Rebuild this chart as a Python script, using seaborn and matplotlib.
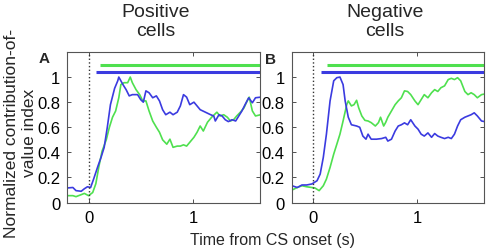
import numpy as np
import pandas as pd
import matplotlib
matplotlib.use("Agg")
import matplotlib.pyplot as plt
import seaborn as sns

# --- values ---
t_pos_blue = [-0.21, -0.15, -0.12, -0.07, -0.04, -0.01, 0.02, 0.05, 0.09, 0.12, 0.15, 0.18,
              0.21, 0.25, 0.28, 0.29, 0.33, 0.36, 0.39, 0.42, 0.47, 0.50, 0.525, 0.55, 0.58,
              0.615, 0.65, 0.68, 0.71, 0.74, 0.78, 0.81, 0.85, 0.88, 0.91, 0.94, 0.97, 1.01,
              1.04, 1.07, 1.12, 1.17, 1.20, 1.215, 1.25, 1.28, 1.31, 1.34, 1.375, 1.41, 1.44,
              1.47, 1.50, 1.535, 1.57, 1.60, 1.65]
v_pos_blue = [0.116, 0.12, 0.095, 0.09, 0.11, 0.126, 0.12, 0.19, 0.29, 0.36, 0.44, 0.60,
              0.78, 0.91, 0.97, 1.0, 0.94, 0.90, 0.85, 0.86, 0.86, 0.82, 0.80, 0.89, 0.875,
              0.835, 0.85, 0.81, 0.74, 0.70, 0.72, 0.70, 0.72, 0.77, 0.86, 0.84, 0.78, 0.80,
              0.77, 0.74, 0.72, 0.70, 0.69, 0.65, 0.70, 0.69, 0.66, 0.645, 0.66, 0.65, 0.69,
              0.73, 0.78, 0.835, 0.795, 0.835, 0.84]

t_pos_green = [-0.21, -0.15, -0.12, -0.07, -0.04, 0.0, 0.04, 0.07, 0.10, 0.13, 0.17, 0.20,
               0.23, 0.26, 0.29, 0.31, 0.34, 0.375, 0.40, 0.42, 0.455, 0.49, 0.52, 0.55, 0.58,
               0.615, 0.65, 0.68, 0.71, 0.75, 0.78, 0.81, 0.85, 0.88, 0.91, 0.94, 0.97, 1.01,
               1.04, 1.07, 1.10, 1.14, 1.18, 1.23, 1.26, 1.295, 1.33, 1.36, 1.39, 1.42, 1.455,
               1.49, 1.52, 1.54, 1.57, 1.60, 1.65]
v_pos_green = [0.055, 0.055, 0.047, 0.063, 0.073, 0.055, 0.08, 0.15, 0.29, 0.41, 0.50, 0.60,
               0.68, 0.73, 0.835, 0.94, 0.955, 0.955, 1.0, 0.955, 0.90, 0.86, 0.81, 0.81, 0.73,
               0.65, 0.60, 0.56, 0.50, 0.465, 0.505, 0.44, 0.45, 0.45, 0.46, 0.45, 0.48, 0.52,
               0.56, 0.61, 0.57, 0.64, 0.68, 0.72, 0.69, 0.70, 0.68, 0.65, 0.66, 0.69, 0.72,
               0.755, 0.81, 0.84, 0.73, 0.69, 0.70]

t_neg_blue = [-0.20, -0.15, -0.105, -0.06, -0.01, 0.04, 0.07, 0.10, 0.13, 0.165, 0.20, 0.23,
              0.26, 0.29, 0.31, 0.34, 0.37, 0.42, 0.45, 0.48, 0.51, 0.53, 0.56, 0.61, 0.66,
              0.70, 0.72, 0.755, 0.79, 0.82, 0.85, 0.88, 0.91, 0.94, 0.98, 1.01, 1.04, 1.07,
              1.105, 1.14, 1.17, 1.20, 1.23, 1.265, 1.30, 1.33, 1.36, 1.39, 1.42, 1.46, 1.49,
              1.52, 1.55, 1.58, 1.62, 1.65]
v_neg_blue = [0.134, 0.12, 0.14, 0.14, 0.148, 0.174, 0.227, 0.36, 0.545, 0.81, 0.97, 0.995,
              1.0, 0.94, 0.81, 0.68, 0.62, 0.61, 0.60, 0.53, 0.505, 0.545, 0.505, 0.505, 0.51,
              0.52, 0.49, 0.505, 0.57, 0.61, 0.62, 0.635, 0.62, 0.66, 0.61, 0.585, 0.545, 0.53,
              0.555, 0.52, 0.55, 0.53, 0.52, 0.51, 0.52, 0.51, 0.545, 0.61, 0.66, 0.68, 0.69,
              0.70, 0.715, 0.69, 0.65, 0.645]

t_neg_green = [-0.20, -0.15, -0.105, -0.06, -0.01, 0.02, 0.06, 0.10, 0.13, 0.165, 0.20, 0.23,
               0.26, 0.29, 0.325, 0.34, 0.37, 0.395, 0.42, 0.44, 0.47, 0.50, 0.53, 0.56, 0.60,
               0.63, 0.65, 0.68, 0.70, 0.72, 0.755, 0.79, 0.82, 0.85, 0.88, 0.91, 0.94, 0.98,
               1.01, 1.04, 1.07, 1.105, 1.14, 1.17, 1.20, 1.23, 1.265, 1.30, 1.33, 1.36, 1.39,
               1.42, 1.46, 1.49, 1.52, 1.55, 1.58, 1.62, 1.65]
v_neg_green = [0.10, 0.12, 0.134, 0.126, 0.12, 0.116, 0.095, 0.134, 0.187, 0.28, 0.386, 0.465,
               0.545, 0.65, 0.78, 0.81, 0.77, 0.78, 0.815, 0.755, 0.69, 0.655, 0.65, 0.637, 0.61,
               0.637, 0.68, 0.61, 0.64, 0.68, 0.73, 0.78, 0.81, 0.835, 0.89, 0.885, 0.86, 0.81,
               0.78, 0.82, 0.86, 0.835, 0.875, 0.90, 0.885, 0.915, 0.93, 0.98, 0.99, 0.98, 0.995,
               0.97, 0.885, 0.86, 0.875, 0.86, 0.835, 0.86, 0.865]

# significance bars: (start time, level)
sig_pos = {"green": (0.11, 1.093), "blue": (0.07, 1.04)}
sig_neg = {"green": (0.137, 1.093), "blue": (0.075, 1.04)}

titles = ["Positive\ncells", "Negative\ncells"]
panel_labels = ["A", "B"]
colors = {"blue": "#3b3be0", "green": "#4fe04f"}

XLIM = (-0.205, 1.645)
YLIM = (0, 1.2)

sns.set_style("ticks")
plt.rcParams["font.family"] = ["Liberation Sans", "DejaVu Sans"]

fig = plt.figure(figsize=(4.9, 2.51), dpi=100)
ax_a = fig.add_axes([0.137, 0.189, 0.394, 0.6])
ax_b = fig.add_axes([0.595, 0.189, 0.393, 0.6])

panels = [
    (ax_a, t_pos_blue, v_pos_blue, t_pos_green, v_pos_green, sig_pos),
    (ax_b, t_neg_blue, v_neg_blue, t_neg_green, v_neg_green, sig_neg),
]

for i, (ax, tb, vb, tg, vg, sig) in enumerate(panels):
    df = pd.concat([
        pd.DataFrame({"t": tg, "v": vg, "s": "green"}),
        pd.DataFrame({"t": tb, "v": vb, "s": "blue"}),
    ])
    sns.lineplot(data=df, x="t", y="v", hue="s", palette=colors, legend=False,
                 estimator=None, sort=False, lw=1.2, ax=ax)
    for key in ["green", "blue"]:
        start, level = sig[key]
        ax.plot([start, XLIM[1]], [level, level], color=colors[key], lw=2.2,
                solid_capstyle="butt")
    ax.axvline(0, color="#333333", ls=":", lw=1)
    ax.set_xlim(*XLIM)
    ax.set_ylim(*YLIM)
    ax.set_xticks([0, 1])
    ax.set_xticklabels(["0", "1"])
    ax.set_yticks([0, 0.2, 0.4, 0.6, 0.8, 1])
    ax.set_yticklabels(["0", "0.2", "0.4", "0.6", "0.8", "1"])
    ax.tick_params(direction="in", length=3, width=0.6, top=True, right=True,
                   labelsize=12, pad=5, colors="#333333", labelcolor="black")
    for sp in ax.spines.values():
        sp.set_color("#555555")
        sp.set_linewidth(0.8)
    ax.set_xlabel("")
    ax.set_ylabel("")

fig.text(156 / 490, 1 - 22 / 251, titles[0], ha="center", va="center", fontsize=14,
         linespacing=1.12)
fig.text(385 / 490, 1 - 22 / 251, titles[1], ha="center", va="center", fontsize=14,
         linespacing=1.12)
fig.text(44 / 490, 1 - 59 / 251, panel_labels[0], ha="center", va="center", fontsize=11,
         fontweight="bold")
fig.text(271 / 490, 1 - 60 / 251, panel_labels[1], ha="center", va="center", fontsize=11,
         fontweight="bold")
fig.text(21 / 490, 1 - 133 / 251, "Normalized contribution-of-\nvalue index", rotation=90,
         ha="center", va="center", fontsize=12.5, linespacing=1.25)
fig.text(272 / 490, 1 - 241 / 251, "Time from CS onset (s)", ha="center", va="center",
         fontsize=11.5)

fig.savefig("out.png", dpi=100)
